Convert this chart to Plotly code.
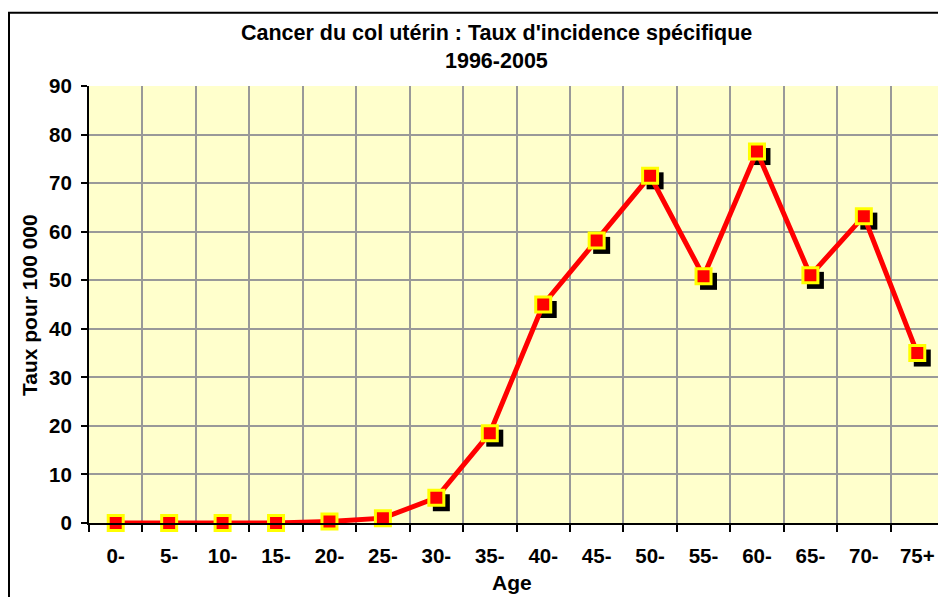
import plotly.graph_objects as go

ages = ["0-", "5-", "10-", "15-", "20-", "25-", "30-", "35-", "40-", "45-",
        "50-", "55-", "60-", "65-", "70-", "75+"]
taux = [0, 0, 0, 0, 0.3, 1.0, 5.2, 18.5, 45.0, 58.2, 71.5, 50.8, 76.5, 51.0, 63.2, 35.0]
y_ticks = list(range(0, 91, 10))

title_line1 = "Cancer du col utérin : Taux d'incidence spécifique"
title_line2 = "1996-2005"
y_title = "Taux pour 100 000"
x_title = "Age"

# page renders the figure with an 8px body margin -> work in screen pixels
OFF = 8
SW, SH = 946, 597
W, H = SW - OFF, SH - OFF
# plot area in screen pixels
PL, PR, PT, PB = 89, 944, 85.5, 523.5
L = PL - OFF
R = SW - PR
T = PT - OFF
B = SH - PB
pw = PR - PL
ph = PB - PT


def px_x(X):
    return (X - PL) / pw


def px_y(Y):
    return (PB - Y) / ph


FONT = "Liberation Sans, Arial, sans-serif"

n = len(ages)
dx = 5 / (pw / n)
dy = 5 / (ph / 90)

fig = go.Figure()

fig.add_trace(go.Scatter(x=ages, y=taux, mode="none", showlegend=False,
                         hoverinfo="skip", xaxis="x", yaxis="y"))
# shadow squares
fig.add_trace(go.Scatter(x=ages, y=taux, mode="markers", showlegend=False,
                         marker=dict(symbol="square", size=17, color="black",
                                     line=dict(width=0)),
                         cliponaxis=False, xaxis="x2", yaxis="y2"))
# main series
fig.add_trace(go.Scatter(x=ages, y=taux, mode="lines+markers", showlegend=False,
                         line=dict(color="#FF0000", width=5),
                         marker=dict(symbol="square", size=15, color="#FF0000",
                                     line=dict(color="#FFFF00", width=3)),
                         cliponaxis=False, xaxis="x3", yaxis="y3"))

tickfont = dict(family=FONT, size=20.5, color="black")

fig.update_layout(
    width=W, height=H,
    margin=dict(l=L, r=R, t=T, b=B, pad=0),
    paper_bgcolor="white",
    plot_bgcolor="#FFFFCC",
    showlegend=False,
    xaxis=dict(type="category", range=[-0.5, n - 0.5], tickson="boundaries",
               tickmode="array", tickvals=ages,
               ticktext=["<b>%s</b>" % a for a in ages],
               showgrid=True, gridcolor="#999999", gridwidth=2,
               ticks="outside", ticklen=7, tickwidth=2, tickcolor="black",
               showline=True, linecolor="black", linewidth=2,
               tickfont=tickfont, ticklabelstandoff=13),
    yaxis=dict(range=[0, 90], tickmode="array", tickvals=y_ticks,
               ticktext=["<b>%d</b>" % v for v in y_ticks],
               showgrid=True, gridcolor="#999999", gridwidth=2,
               ticks="outside", ticklen=6, tickwidth=2, tickcolor="black",
               showline=True, linecolor="black", linewidth=2,
               tickfont=tickfont, zeroline=False, ticklabelstandoff=5),
    xaxis2=dict(type="category", range=[-0.5 - dx, n - 0.5 - dx], overlaying="x",
                visible=False),
    yaxis2=dict(range=[dy, 90 + dy], overlaying="y", visible=False),
    xaxis3=dict(type="category", range=[-0.5, n - 0.5], overlaying="x", visible=False),
    yaxis3=dict(range=[0, 90], overlaying="y", visible=False),
    shapes=[
        dict(type="line", xref="paper", yref="paper", x0=1, x1=1, y0=0, y1=1,
             line=dict(color="#999999", width=2), layer="below"),
        dict(type="rect", xref="paper", yref="paper",
             x0=px_x(9), x1=px_x(990), y0=px_y(640), y1=px_y(12),
             line=dict(color="black", width=2), fillcolor="rgba(0,0,0,0)"),
    ],
    annotations=[
        dict(text="<b>%s</b>" % title_line1, xref="paper", yref="paper",
             x=px_x(496), y=px_y(32), xanchor="center", yanchor="middle",
             showarrow=False, font=dict(family=FONT, size=21.5, color="black")),
        dict(text="<b>%s</b>" % title_line2, xref="paper", yref="paper",
             x=px_x(496), y=px_y(60), xanchor="center", yanchor="middle",
             showarrow=False, font=dict(family=FONT, size=21.5, color="black")),
        dict(text="<b>%s</b>" % y_title, xref="paper", yref="paper",
             x=px_x(30), y=px_y(305), xanchor="center", yanchor="middle",
             textangle=-90, showarrow=False,
             font=dict(family=FONT, size=21, color="black")),
        dict(text="<b>%s</b>" % x_title, xref="paper", yref="paper",
             x=px_x(512), y=px_y(583), xanchor="center", yanchor="middle",
             showarrow=False, font=dict(family=FONT, size=21, color="black")),
    ],
)

fig.write_html("out.html")
